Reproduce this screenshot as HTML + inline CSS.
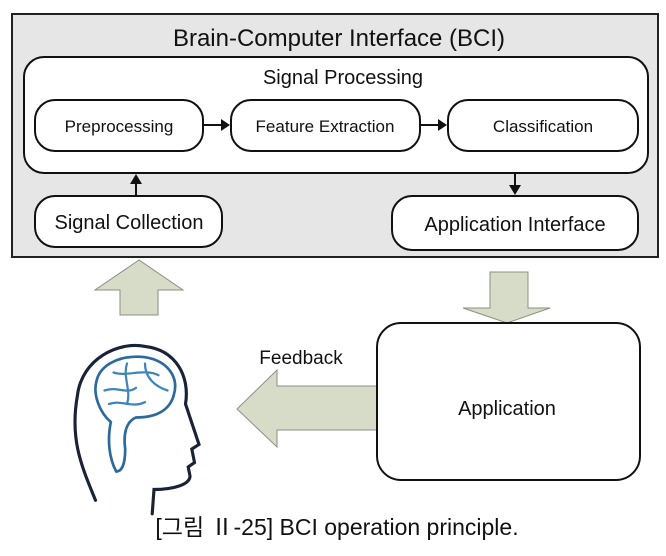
<!DOCTYPE html>
<html><head><meta charset="utf-8"><style>
body{margin:0;width:666px;height:551px;background:#fff;overflow:hidden}
svg text{font-family:"Liberation Sans",sans-serif;fill:#111}
</style></head><body>
<svg width="666" height="551" viewBox="0 0 666 551">
<rect x="12" y="14" width="646" height="243" fill="#e6e6e6" stroke="#222" stroke-width="2"/>
<text x="339" y="46" font-size="24" text-anchor="middle">Brain-Computer Interface (BCI)</text>
<rect x="24" y="57" width="624" height="116" rx="20" fill="#fff" stroke="#111" stroke-width="2"/>
<text x="343" y="84" font-size="20" text-anchor="middle">Signal Processing</text>
<rect x="35" y="100" width="168" height="51" rx="20" fill="#fff" stroke="#111" stroke-width="2"/>
<text x="119" y="132" font-size="17" text-anchor="middle">Preprocessing</text>
<rect x="231" y="100" width="189" height="51" rx="20" fill="#fff" stroke="#111" stroke-width="2"/>
<text x="325" y="132" font-size="17" text-anchor="middle">Feature Extraction</text>
<rect x="448" y="100" width="190" height="51" rx="20" fill="#fff" stroke="#111" stroke-width="2"/>
<text x="543" y="132" font-size="17" text-anchor="middle">Classification</text>
<path d="M203 125H222" stroke="#111" stroke-width="2"/><path d="M221 119L230 125L221 131Z" fill="#111"/>
<path d="M420 125H439" stroke="#111" stroke-width="2"/><path d="M438 119L447 125L438 131Z" fill="#111"/>
<rect x="35" y="196" width="187" height="51" rx="20" fill="#fff" stroke="#111" stroke-width="2"/>
<text x="129" y="229" font-size="20" text-anchor="middle">Signal Collection</text>
<rect x="392" y="196" width="246" height="54" rx="20" fill="#fff" stroke="#111" stroke-width="2"/>
<text x="515" y="231" font-size="20" text-anchor="middle">Application Interface</text>
<path d="M136 196V182" stroke="#111" stroke-width="2"/><path d="M130 184L136 174L142 184Z" fill="#111"/>
<path d="M515 173V186" stroke="#111" stroke-width="2"/><path d="M509 185L515 195L521 185Z" fill="#111"/>
<path d="M120 315V290H95L139 260L183 290H158V315Z" fill="#d7dcc8" stroke="#8a9080"/>
<path d="M490 272H528V308H550L507 323L463 308H490Z" fill="#d7dcc8" stroke="#8a9080"/>
<path d="M377 386V430H277V447L237 409L277 370V386Z" fill="#d7dcc8" stroke="#8a9080"/>
<text x="301" y="364" font-size="19" text-anchor="middle">Feedback</text>
<rect x="377" y="323" width="263" height="157" rx="24" fill="#fff" stroke="#111" stroke-width="2"/>
<text x="507" y="415" font-size="20" text-anchor="middle">Application</text>
<g fill="none" stroke-linecap="round" transform="translate(10,35) scale(0.9)">
<path d="M95 517C80 480 66 450 75 400C80 360 120 340 150 346C185 350 200 380 195 410L210 455L202 460L205 475L198 480L200 490C200 500 180 505 160 505L158 532" stroke="#1a2236" stroke-width="3.5"/>
<path d="M118 485C110 470 108 450 112 430C100 420 92 400 96 385C100 365 125 355 150 358C175 362 188 380 182 400C178 415 165 425 140 425C128 430 126 445 128 460C128 475 125 485 118 485Z" stroke="#2d6a9c" stroke-width="3"/>
<path d="M105 395C120 390 130 400 140 392M115 375C130 380 150 370 165 378M110 410C125 405 135 415 150 408M150 365C150 380 160 390 175 395M130 365C125 380 135 395 130 410" stroke="#3f86b8" stroke-width="2.5"/>
</g>
<text x="337" y="535" font-size="23" text-anchor="middle" style="font-family:'Liberation Sans','Noto Sans CJK KR',sans-serif">[그림 Ⅱ-25] BCI operation principle.</text>
</svg>
</body></html>
